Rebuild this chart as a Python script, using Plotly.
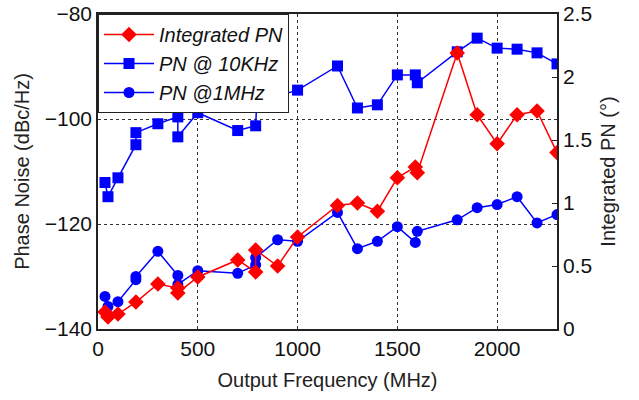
import plotly.graph_objects as go

# PN @ 10KHz (left axis, dBc/Hz)
f_10k = [35, 50, 100, 190, 190, 300, 400, 400, 500, 700, 790, 800, 900, 1000,
         1200, 1300, 1400, 1500, 1590, 1600, 1800, 1900, 2000, 2100, 2200, 2300]
pn_10k = [-112.1, -114.8, -111.2, -104.9, -102.6, -100.9, -99.6, -103.4, -98.8,
          -102.2, -101.3, -93.0, -95.6, -94.5, -89.9, -97.9, -97.3, -91.6,
          -91.6, -93.1, -87.2, -84.6, -86.5, -86.7, -87.4, -89.5]

# PN @ 1MHz (left axis, dBc/Hz)
f_1m = [35, 50, 100, 190, 190, 300, 400, 400, 500, 700, 790, 790, 900, 1000,
        1200, 1300, 1400, 1500, 1590, 1600, 1800, 1900, 2000, 2100, 2200, 2300]
pn_1m = [-133.8, -135.7, -134.8, -130.6, -130.0, -125.2, -129.8, -131.5, -128.9,
         -129.4, -127.8, -126.4, -123.0, -123.3, -117.8, -124.7, -123.3, -120.5,
         -123.5, -121.4, -119.2, -116.9, -116.3, -114.8, -119.8, -118.2]

# Integrated PN (right axis, degrees)
f_int = [35, 50, 100, 190, 300, 400, 400, 500, 700, 790, 790, 900, 1000,
         1200, 1300, 1400, 1500, 1590, 1600, 1800, 1900, 2000, 2100, 2200, 2300]
pn_int = [0.135, 0.095, 0.119, 0.214, 0.357, 0.325, 0.286, 0.413, 0.548, 0.452,
          0.627, 0.50, 0.73, 0.98, 1.0, 0.935, 1.2, 1.286, 1.24, 2.19, 1.70,
          1.47, 1.70, 1.73, 1.40]

x_ticks = [0, 500, 1000, 1500, 2000]
y_ticks = [-140, -120, -100, -80]
y2_ticks = [0, 0.5, 1, 1.5, 2, 2.5]

RED = "#ff0000"
BLUE = "#0000ff"
FONT = "Liberation Sans, Arial, sans-serif"

fig = go.Figure()
fig.add_trace(go.Scatter(
    x=f_int, y=pn_int, yaxis="y2", name="Integrated PN", mode="lines+markers",
    line=dict(color=RED, width=1.5),
    marker=dict(symbol="diamond", size=12, color=RED)))
fig.add_trace(go.Scatter(
    x=f_10k, y=pn_10k, name="PN @ 10KHz", mode="lines+markers",
    line=dict(color=BLUE, width=1.5),
    marker=dict(symbol="square", size=11, color=BLUE)))
fig.add_trace(go.Scatter(
    x=f_1m, y=pn_1m, name="PN @1MHz", mode="lines+markers",
    line=dict(color=BLUE, width=1.5),
    marker=dict(symbol="circle", size=11, color=BLUE)))

fig.update_layout(
    width=639, height=400,
    margin=dict(l=98, r=82, t=14, b=71, autoexpand=False),
    paper_bgcolor="white", plot_bgcolor="white",
    font=dict(family=FONT, size=18, color="#111"),
    showlegend=True,
    legend=dict(x=0, y=1, xanchor="left", yanchor="top",
                bgcolor="white", bordercolor="#222", borderwidth=1,
                font=dict(size=20, style="italic", color="#111"),
                traceorder="normal", itemwidth=50,
                tracegroupgap=0),
    xaxis=dict(range=[0, 2300], tickvals=x_ticks,
               title=dict(text="Output Frequency (MHz)", font=dict(size=20, color="#222"), standoff=14),
               tickfont=dict(size=21, color="#111"),
               showgrid=True, gridcolor="#333", griddash="dot", gridwidth=1,
               showline=True, linecolor="#222", linewidth=1.5, mirror=True,
               ticks="", zeroline=False, automargin=False),
    yaxis=dict(range=[-140, -80], tickvals=y_ticks,
               title=dict(text="Phase Noise (dBc/Hz)", font=dict(size=20, color="#222"), standoff=10),
               tickfont=dict(size=21, color="#111"),
               showgrid=True, gridcolor="#333", griddash="dot", gridwidth=1,
               showline=True, linecolor="#222", linewidth=1.5, mirror=True,
               ticks="", zeroline=False, automargin=False),
    yaxis2=dict(range=[0, 2.5], tickvals=y2_ticks, overlaying="y", side="right",
                title=dict(text="Integrated PN (°)", font=dict(size=20, color="#222"), standoff=10),
                tickfont=dict(size=21, color="#111"),
                showgrid=False, zeroline=False, showline=True, linecolor="#222", linewidth=1.5,
                ticks="inside", ticklen=5, tickcolor="#222", automargin=False),
)

fig.write_html("out.html")
